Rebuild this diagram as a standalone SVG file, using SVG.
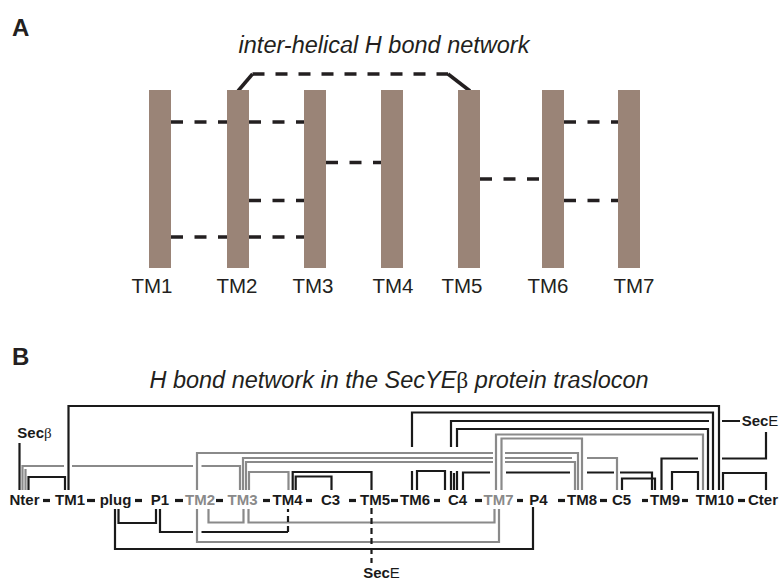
<svg xmlns="http://www.w3.org/2000/svg" width="781" height="580" viewBox="0 0 781 580">
  <style>
    .panel { font-family: "Liberation Sans", Arial, sans-serif; font-weight: bold; fill: #231f20; font-size: 24px; }
    .title { font-family: "Liberation Sans", Arial, sans-serif; font-style: italic; fill: #231f20; font-size: 23.5px; text-anchor: middle; }
    .sym { font-family: "Liberation Serif", serif; font-style: normal; }
    .bar { fill: #9a8477; }
    .tm { font-family: "Liberation Sans", Arial, sans-serif; fill: #231f20; font-size: 20.5px; text-anchor: middle; }
    .hb { stroke: #231f20; stroke-width: 3.5; fill: none; stroke-dasharray: 12 11.5; }
    .hbs { stroke: #231f20; stroke-width: 3.5; fill: none; }
    .res { font-family: "Liberation Sans", Arial, sans-serif; font-weight: bold; font-size: 15px; fill: #1a1a1a; text-anchor: middle; }
    .res.gr { fill: #8a8a8a; }
    .reg { font-weight: normal; }
    .bb { stroke: #1a1a1a; stroke-width: 3.2; }
    .k { stroke: #1a1a1a; stroke-width: 2.2; fill: none; }
    .kd { stroke: #1a1a1a; stroke-width: 2.2; fill: none; stroke-dasharray: 6 4; }
    .g { stroke: #8a8a8a; stroke-width: 2.2; fill: none; }
  </style>

  <!-- Panel A: helix bars and inter-helical H bonds -->
  <text class="panel" x="12" y="36">A</text>
  <text class="title" x="384" y="53">inter-helical H bond network</text>

  <g id="helixA-bonds">
    <line class="hb" x1="171" y1="122" x2="227" y2="122"/>
    <line class="hb" x1="249" y1="122" x2="304" y2="122"/>
    <line class="hb" x1="171" y1="237" x2="227" y2="237"/>
    <line class="hb" x1="249" y1="237" x2="304" y2="237"/>
    <line class="hb" x1="249" y1="200.5" x2="304" y2="200.5"/>
    <line class="hb" x1="326" y1="162.5" x2="381" y2="162.5"/>
    <line class="hb" x1="480" y1="179" x2="542" y2="179"/>
    <line class="hb" x1="564" y1="122" x2="618" y2="122"/>
    <line class="hb" x1="564" y1="200.5" x2="618" y2="200.5"/>
    <!-- TM2 to TM5 over the top -->
    <line class="hbs" x1="238" y1="91" x2="252.5" y2="74"/>
    <line class="hb" x1="252.5" y1="74" x2="448" y2="74" style="stroke-dasharray:12 11"/>
    <line class="hbs" x1="448" y1="74" x2="470" y2="91"/>
  </g>

  <g id="TM1a"><rect class="bar" x="149" y="90" width="22" height="178"/><text class="tm" x="152" y="293">TM1</text></g>
  <g id="TM2a"><rect class="bar" x="227" y="90" width="22" height="178"/><text class="tm" x="237" y="293">TM2</text></g>
  <g id="TM3a"><rect class="bar" x="304" y="90" width="22" height="178"/><text class="tm" x="313" y="293">TM3</text></g>
  <g id="TM4a"><rect class="bar" x="381" y="90" width="22" height="178"/><text class="tm" x="393" y="293">TM4</text></g>
  <g id="TM5a"><rect class="bar" x="458" y="90" width="22" height="178"/><text class="tm" x="462" y="293">TM5</text></g>
  <g id="TM6a"><rect class="bar" x="542" y="90" width="22" height="178"/><text class="tm" x="548" y="293">TM6</text></g>
  <g id="TM7a"><rect class="bar" x="618" y="90" width="22" height="178"/><text class="tm" x="634" y="293">TM7</text></g>

  <!-- Panel B: SecYEβ H bond network -->
  <text class="panel" x="12" y="365">B</text>
  <text class="title" x="399" y="388">H bond network in the SecYE<tspan class="sym">β</tspan> protein traslocon</text>

  <g id="connectors">
    <!-- backbone links -->
    <g class="bb">
      <line x1="43" y1="500.5" x2="50" y2="500.5"/>
      <line x1="87" y1="500.5" x2="95" y2="500.5"/>
      <line x1="135" y1="500.5" x2="142" y2="500.5"/>
      <line x1="175" y1="500.5" x2="183" y2="500.5"/>
      <line x1="216" y1="500.5" x2="223" y2="500.5"/>
      <line x1="263" y1="500.5" x2="270" y2="500.5"/>
      <line x1="306" y1="500.5" x2="312" y2="500.5"/>
      <line x1="349" y1="500.5" x2="356" y2="500.5"/>
      <line x1="391" y1="500.5" x2="398" y2="500.5"/>
      <line x1="434" y1="500.5" x2="440" y2="500.5"/>
      <line x1="475" y1="500.5" x2="482" y2="500.5"/>
      <line x1="517" y1="500.5" x2="523" y2="500.5"/>
      <line x1="558" y1="500.5" x2="565" y2="500.5"/>
      <line x1="600" y1="500.5" x2="607" y2="500.5"/>
      <line x1="642" y1="500.5" x2="648" y2="500.5"/>
      <line x1="682" y1="500.5" x2="688" y2="500.5"/>
      <line x1="738" y1="500.5" x2="745" y2="500.5"/>
    </g>

    <!-- black H bonds above the chain -->
    <path class="k" d="M68.5,490 V406 H719 V490"/>
    <path class="k" d="M19.5,443 V490"/>
    <path class="k" d="M28.5,490 V477 H65 V490"/>
    <path class="k" d="M292.7,490 V472 H371.5 V490"/>
    <path class="k" d="M295.7,490 V476.5 H331.5 V490"/>
    <path class="k" d="M412,490 V471 M412,447 V412.5 H713 V490"/>
    <path class="k" d="M417,490 V471 H445 V490"/>
    <path class="k" d="M451,490 V471 M451,447 V421 H709 M722,421 H740"/>
    <path class="k" d="M454,490 V473"/>
    <path class="k" d="M457,490 V471 M457,447 V429 H708 V490"/>
    <path class="k" d="M463,490 V472.5 H490 M506,472.5 H570 M587,472.5 H614 M620,472.5 H652 V490"/>
    <path class="k" d="M622,490 V478.5 H655 V490"/>
    <path class="k" d="M661.5,490 V458.5 H698 M722,458.5 H766 V432"/>
    <path class="k" d="M672,490 V472 H698 V490"/>
    <path class="k" d="M723,490 V473 H766 V490"/>

    <!-- gray H bonds above the chain -->
    <path class="g" d="M22.5,490 V466 H64 M72,466 H193 M201.5,466 H240 V490"/>
    <path class="g" d="M25.5,490 V469"/>
    <path class="g" d="M197,490 V453 H493 M505,453 H578 V490"/>
    <path class="g" d="M243,490 V458 H493 M505,458 H572 M587,458 H617 V490"/>
    <path class="g" d="M246,490 V462 H493 M505,462 H575 V490"/>
    <path class="g" d="M249,490 V472 H288.5 V490"/>
    <path class="g" d="M496,490 V434.5 H703 V490"/>
    <path class="g" d="M501.5,490 V438.5 H582 V490"/>

    <!-- H bonds below the chain -->
    <path class="g" d="M208.5,509 V522.5 H243.5 V509"/>
    <path class="g" d="M248.5,509 V522.5 H494.5 V509"/>
    <path class="g" d="M197,509 V542 H499 V509"/>
    <path class="k" d="M118.5,509 V523 H156 V509"/>
    <path class="k" d="M160,509 V532 H193 M201.5,532 H288"/>
    <path class="kd" d="M288,532 V509"/>
    <path class="k" d="M115,509 V549 H533 V507"/>
    <path class="kd" d="M371.5,508 V563"/>
  </g>

  <!-- chain elements -->
  <g id="Nter"><text class="res" x="24.5" y="505">Nter</text></g>
  <g id="TM1"><text class="res" x="70" y="505">TM1</text></g>
  <g id="plug"><text class="res" x="115.5" y="505">plug</text></g>
  <g id="P1"><text class="res" x="160" y="505">P1</text></g>
  <g id="TM2"><text class="res gr" x="200" y="505">TM2</text></g>
  <g id="TM3"><text class="res gr" x="242.5" y="505">TM3</text></g>
  <g id="TM4"><text class="res" x="287.5" y="505">TM4</text></g>
  <g id="C3"><text class="res" x="330.5" y="505">C3</text></g>
  <g id="TM5"><text class="res" x="375" y="505">TM5</text></g>
  <g id="TM6"><text class="res" x="415" y="505">TM6</text></g>
  <g id="C4"><text class="res" x="457.5" y="505">C4</text></g>
  <g id="TM7"><text class="res gr" x="498.5" y="505">TM7</text></g>
  <g id="P4"><text class="res" x="538.5" y="505">P4</text></g>
  <g id="TM8"><text class="res" x="582" y="505">TM8</text></g>
  <g id="C5"><text class="res" x="621.5" y="505">C5</text></g>
  <g id="TM9"><text class="res" x="665" y="505">TM9</text></g>
  <g id="TM10"><text class="res" x="715" y="505">TM10</text></g>
  <g id="Cter"><text class="res" x="763" y="505">Cter</text></g>

  <!-- partner subunits -->
  <g id="SecB"><text class="res" x="34.5" y="438">Sec<tspan class="reg sym">β</tspan></text></g>
  <g id="SecE-top"><text class="res" x="760" y="426">Sec<tspan class="reg">E</tspan></text></g>
  <g id="SecE-bottom"><text class="res" x="381.5" y="578">Sec<tspan class="reg">E</tspan></text></g>
</svg>
